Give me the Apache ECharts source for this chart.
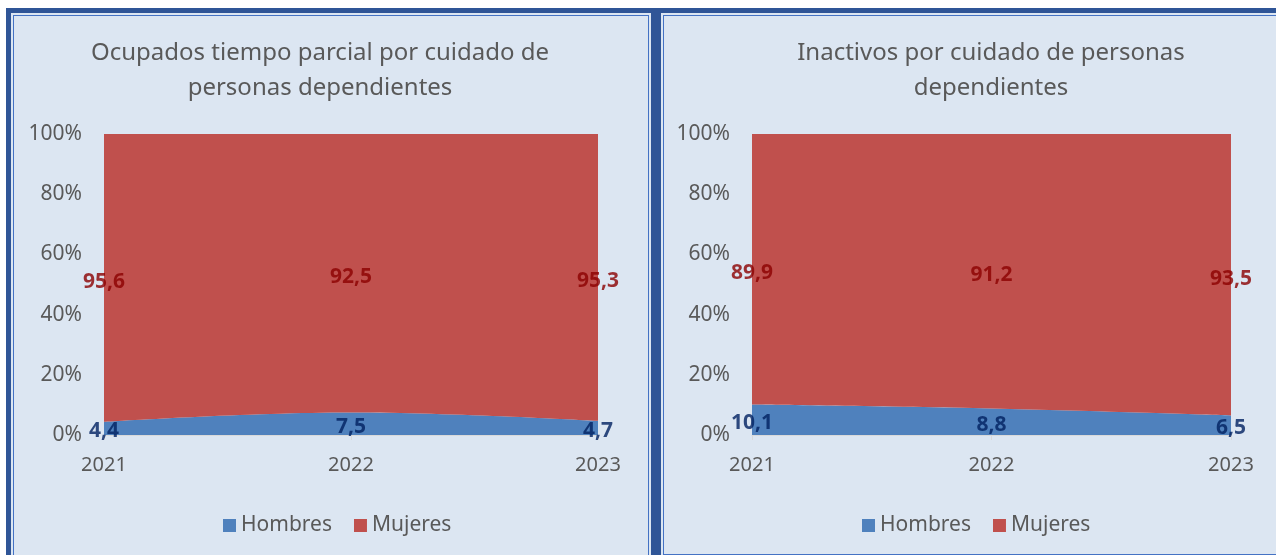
<!DOCTYPE html>
<html>
<head>
<meta charset="utf-8">
<script src="https://cdn.jsdelivr.net/npm/echarts@6/dist/echarts.min.js"></script>
<style>
  html, body { margin: 0; padding: 0; width: 1276px; height: 555px; overflow: hidden; background: #ffffff; }
  .panel { position: absolute; box-sizing: border-box; border: 5px solid #2f5597; background: #dce6f2; }
  .panel::after { content: ''; position: absolute; left: 2px; top: 2px; right: 2px; bottom: 2px; border: 1.5px solid #4472c4; }
  #chart { position: absolute; left: 0; top: 0; width: 1276px; height: 555px; }
</style>
</head>
<body>
<div class="panel" style="left:6px; top:8px; width:650px; height:600px;"></div>
<div class="panel" style="left:656px; top:8px; width:640px; height:554px;"></div>
<div id="chart"></div>
<script>
// datos
const years = ['2021', '2022', '2023']
const hombresParcial = [4.4, 7.5, 4.7]
const mujeresParcial = [95.6, 92.5, 95.3]
const hombresInactivos = [10.1, 8.8, 6.5]
const mujeresInactivos = [89.9, 91.2, 93.5]
const titles = [
  ['Ocupados tiempo parcial por cuidado de', 'personas dependientes'],
  ['Inactivos por cuidado de personas', 'dependientes']
]

const FONT = '"Noto Sans", "Open Sans", sans-serif'
const GREY = '#595959'
const BLUE = '#4f81bd'
const RED = '#c0504d'

const chart = echarts.init(document.getElementById('chart'))

const fmt = v => String(v).replace('.', ',')

const makeAxes = (idx) => ({
  x: {
    type: 'category',
    gridIndex: idx,
    data: years,
    boundaryGap: false,
    axisLine: { lineStyle: { color: '#d9d9d9' } },
    axisTick: { show: true, length: 5, lineStyle: { color: '#d9d9d9' } },
    axisLabel: { color: GREY, fontSize: 20, fontFamily: FONT, margin: 20 }
  },
  y: {
    type: 'value',
    gridIndex: idx,
    min: 0,
    max: 100,
    interval: 20,
    splitLine: { show: false },
    axisLine: { show: false },
    axisTick: { show: false },
    axisLabel: { color: GREY, fontSize: 21, fontFamily: FONT, margin: 22, formatter: '{value}%' }
  }
})

const makeSeries = (idx, hombres, mujeres) => {
  const stack = 'total' + idx
  const labelBase = { show: true, position: 'inside', fontSize: 21, fontWeight: 'bold', fontFamily: FONT }
  return [
    {
      name: 'Hombres', type: 'line', xAxisIndex: idx, yAxisIndex: idx, stack: stack,
      data: hombres, smooth: 0.4, symbol: 'none', z: 1,
      lineStyle: { width: 0 }, areaStyle: { color: BLUE, opacity: 1 }, itemStyle: { color: BLUE }
    },
    {
      name: 'Mujeres', type: 'line', xAxisIndex: idx, yAxisIndex: idx, stack: stack,
      data: mujeres, smooth: 0.4, symbol: 'none', z: 1,
      lineStyle: { width: 0 }, areaStyle: { color: RED, opacity: 1 }, itemStyle: { color: RED }
    },
    {
      name: 'etqH' + idx, type: 'scatter', xAxisIndex: idx, yAxisIndex: idx, symbolSize: 1, clip: false,
      z: 20, zlevel: 1,
      itemStyle: { color: 'rgba(0,0,0,0)' },
      data: hombres.map((v, i) => [i, v / 2, v]),
      label: Object.assign({}, labelBase, { color: '#002060', offset: [0, 3], formatter: p => fmt(p.data[2]) })
    },
    {
      name: 'etqM' + idx, type: 'scatter', xAxisIndex: idx, yAxisIndex: idx, symbolSize: 1, clip: false,
      z: 20, zlevel: 1,
      itemStyle: { color: 'rgba(0,0,0,0)' },
      data: mujeres.map((v, i) => [i, hombres[i] + v / 2, v]),
      label: Object.assign({}, labelBase, { color: '#8b0000', offset: [0, 4], formatter: p => fmt(p.data[2]) })
    }
  ]
}

const a0 = makeAxes(0)
const a1 = makeAxes(1)

const legendBase = {
  orient: 'horizontal',
  top: 510,
  icon: 'rect',
  itemWidth: 13,
  itemHeight: 13,
  itemGap: 22,
  data: ['Hombres', 'Mujeres'],
  textStyle: { color: GREY, fontSize: 21, fontFamily: FONT }
}

const titleText = (x, y, text) => ({
  type: 'text', x: x, y: y, silent: true,
  style: { text: text, align: 'center', verticalAlign: 'middle', fill: GREY, font: '24px ' + FONT }
})

chart.setOption({
  animation: false,
  grid: [
    { left: 104, right: 678, top: 134, bottom: 120 },
    { left: 752, right: 45, top: 134, bottom: 120 }
  ],
  xAxis: [a0.x, a1.x],
  yAxis: [a0.y, a1.y],
  legend: [
    Object.assign({}, legendBase, { left: 218 }),
    Object.assign({}, legendBase, { left: 857 })
  ],
  graphic: [
    titleText(320, 53, titles[0][0]),
    titleText(320, 88, titles[0][1]),
    titleText(991, 53, titles[1][0]),
    titleText(991, 88, titles[1][1])
  ],
  series: [
    ...makeSeries(0, hombresParcial, mujeresParcial),
    ...makeSeries(1, hombresInactivos, mujeresInactivos)
  ]
})

window.addEventListener('resize', () => chart.resize())
</script>
</body>
</html>
